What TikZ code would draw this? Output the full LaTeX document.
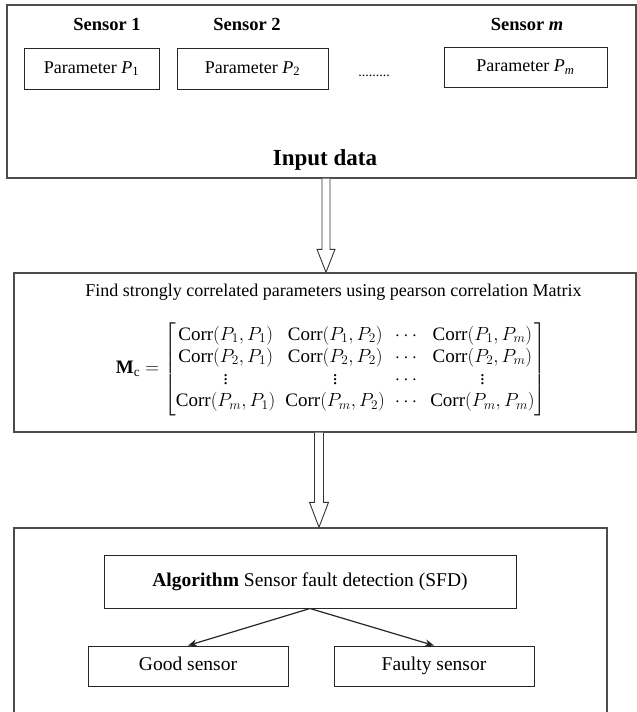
\documentclass[tikz,border=0pt]{standalone}
\usepackage{fix-cm}
\usepackage{amsmath}
\usepackage{fontspec}
\setmainfont{Liberation Serif}
\usetikzlibrary{calc,arrows.meta}
\begin{document}
\begin{tikzpicture}[x=1pt,y=-1pt,
  outerbox/.style={draw=black!70, line width=1.4pt, rectangle, inner sep=0pt},
  innerbox/.style={draw=black!85, line width=1pt, rectangle, inner sep=0pt, text height=13pt, text depth=4pt},
  sensorlbl/.style={font=\bfseries\fontsize{18.5}{21}\selectfont},
  paramtxt/.style={font=\fontsize{18}{21}\selectfont},
  cambria/.style={font=\fontsize{19.5}{22}\selectfont},
  blockarrow/.style={draw=black!80, line width=0.9pt, fill=white},
  thinarrow/.style={draw=black!85, line width=1.2pt, -{Stealth[length=9pt,width=7pt]}}
]
\useasboundingbox (0,0) rectangle (637,712);

% ---------- Input data box ----------
\node[outerbox, minimum width=629pt, minimum height=173pt] (input) at (321.5,91.5) {};
\node[sensorlbl] (s1) at (107,24) {Sensor 1};
\node[sensorlbl] (s2) at (247,24) {Sensor 2};
\node[sensorlbl] (sm) at (527,24) {Sensor \textbf{\textit{m}}};
\node[innerbox, paramtxt, minimum width=135pt, minimum height=41pt] (p1) at (91.5,68.5) {Parameter \textit{P}\textsubscript{1}};
\node[innerbox, paramtxt, minimum width=151pt, minimum height=41pt] (p2) at (252.5,68.5) {Parameter \textit{P}\textsubscript{2}};
\node[innerbox, paramtxt, minimum width=163pt, minimum height=40pt] (pm) at (525.5,67) {Parameter \textit{P}\textsubscript{\textit{m}}};
\node[font=\fontsize{14}{16}\selectfont, anchor=base] (dots) at (374,76) {.........};
\node[font=\bfseries\fontsize{23}{26}\selectfont] (inlabel) at (325,160) {Input data};

% ---------- Correlation box ----------
\node[outerbox, minimum width=622pt, minimum height=159pt] (corr) at (325,352.5) {};
\node[paramtxt] (findtxt) at (333.5,292) {Find strongly correlated parameters using pearson correlation Matrix};
\node[font=\fontsize{19}{22}\selectfont] (matrix) at (331,369) {%
  \renewcommand{\arraystretch}{1.0}%
  $\mathbf{M}_{\mathrm{c}} = \begin{bmatrix}
  \mathrm{Corr}(P_1,P_1) & \mathrm{Corr}(P_1,P_2) & \cdots & \mathrm{Corr}(P_1,P_m)\\
  \mathrm{Corr}(P_2,P_1) & \mathrm{Corr}(P_2,P_2) & \cdots & \mathrm{Corr}(P_2,P_m)\\
  \vdots & \vdots & \cdots & \vdots\\
  \mathrm{Corr}(P_m,P_1) & \mathrm{Corr}(P_m,P_2) & \cdots & \mathrm{Corr}(P_m,P_m)
  \end{bmatrix}$};

% ---------- SFD box ----------
\node[outerbox, minimum width=593pt, minimum height=240pt] (sfd) at (310.5,648) {};
\node[innerbox, cambria, minimum width=412pt, minimum height=53pt] (alg) at (310,581.5) {\textbf{Algorithm} Sensor fault detection (SFD)};
\node[innerbox, cambria, minimum width=200pt, minimum height=40pt] (good) at (188,666) {Good sensor};
\node[innerbox, cambria, minimum width=200pt, minimum height=40pt] (faulty) at (434,666) {Faulty sensor};

% ---------- connectors ----------
\coordinate (a1s) at ($(input.south)+(4.5,0)$);
\coordinate (a1e) at ($(corr.north)+(1,0)$);
\coordinate (a2s) at ($(corr.south)+(-6,0)$);
\coordinate (a2e) at ($(sfd.north)+(8.5,0)$);
\draw[blockarrow] let \p1=(a1s), \p2=(a1e) in
  (\x1-4,\y1) -- (\x1-4,\y2+23) -- (\x1-9,\y2+23) -- (\x2,\y2) -- (\x1+9,\y2+23) -- (\x1+4,\y2+23) -- (\x1+4,\y1);
\draw[blockarrow] let \p1=(a2s), \p2=(a2e) in
  (\x1-4.5,\y1) -- (\x1-4.5,\y2+25) -- (\x1-9.5,\y2+25) -- (\x2,\y2) -- (\x1+9.5,\y2+25) -- (\x1+4.5,\y2+25) -- (\x1+4.5,\y1);
\draw[thinarrow] (alg.south) -- (good.north);
\draw[thinarrow] (alg.south) -- (faulty.north);
\end{tikzpicture}
\end{document}
